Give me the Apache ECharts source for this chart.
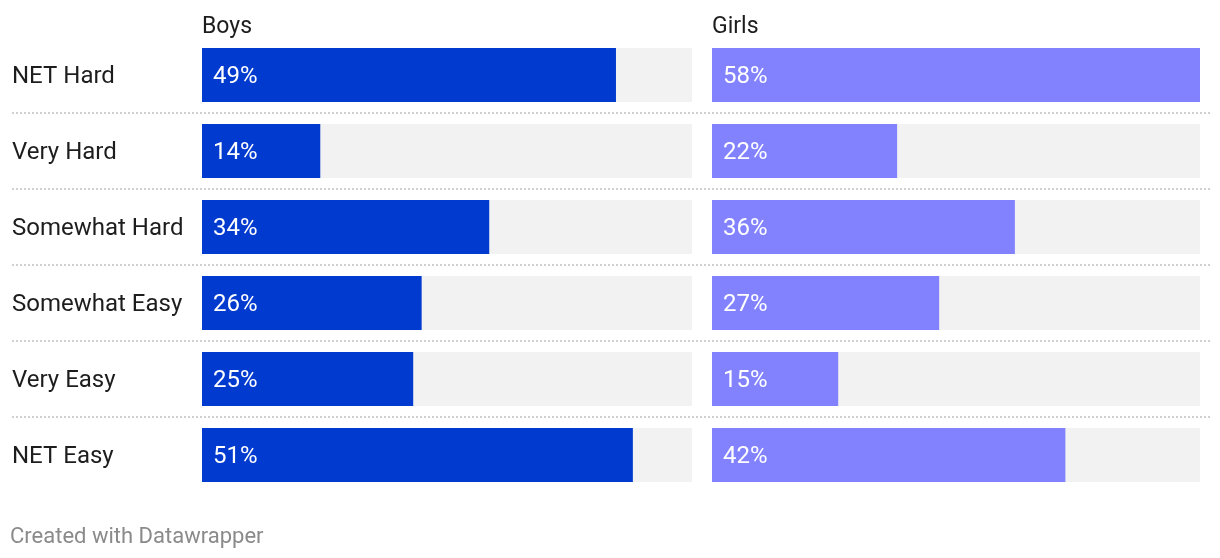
<!DOCTYPE html>
<html>
<head>
<meta charset="utf-8">
<script src="https://cdn.jsdelivr.net/npm/echarts@6/dist/echarts.min.js"></script>
<style>
html,body{margin:0;padding:0;background:#fff;}
#chart{width:1220px;height:558px;}
</style>
</head>
<body>
<div id="chart"></div>
<script>
const categories = ["NET Hard", "Very Hard", "Somewhat Hard", "Somewhat Easy", "Very Easy", "NET Easy"];
const boys = [49, 14, 34, 26, 25, 51];
const girls = [58, 22, 36, 27, 15, 42];
const panelTitles = ["Boys", "Girls"];
const footerText = "Created with Datawrapper";
const xMax = 58;

const FONT = "Roboto, 'Noto Sans', sans-serif";
const chart = echarts.init(document.getElementById('chart'), null, {renderer: 'canvas'});

const gridTop = 37, gridHeight = 456;

function barSeries(data, color, idx) {
  return {
    type: 'bar',
    xAxisIndex: idx, yAxisIndex: idx,
    data: data,
    barWidth: 54,
    showBackground: true,
    backgroundStyle: {color: '#f2f2f2'},
    itemStyle: {color: color},
    silent: true,
    label: {
      show: true, position: 'insideLeft', distance: 11, offset: [0, 2],
      formatter: p => p.value + '%',
      color: '#ffffff', fontSize: 24, fontFamily: FONT
    }
  };
}

chart.setOption({
  animation: false,
  backgroundColor: '#ffffff',
  title: [
    {text: panelTitles[0], left: 197, top: 11, textStyle: {fontSize: 23, fontWeight: 'normal', color: '#1d1d1d', fontFamily: FONT}},
    {text: panelTitles[1], left: 707, top: 11, textStyle: {fontSize: 23, fontWeight: 'normal', color: '#1d1d1d', fontFamily: FONT}},
    {text: footerText, left: 5, top: 521, textStyle: {fontSize: 22, fontWeight: 'normal', color: '#8a8a8a', fontFamily: FONT}}
  ],
  grid: [
    {left: 202, width: 490, top: gridTop, height: gridHeight},
    {left: 712, width: 488, top: gridTop, height: gridHeight},
    {left: 12, width: 1198, top: gridTop, height: gridHeight, z: 0}
  ],
  xAxis: [
    {gridIndex: 0, type: 'value', min: 0, max: xMax, show: false},
    {gridIndex: 1, type: 'value', min: 0, max: xMax, show: false},
    {gridIndex: 2, type: 'value', min: 0, max: 1, show: false}
  ],
  yAxis: [
    {gridIndex: 0, type: 'category', data: categories, inverse: true,
     axisLine: {show: false}, axisTick: {show: false}, splitLine: {show: false},
     axisLabel: {show: true, align: 'left', margin: 190,
       formatter: v => '{c|' + v + '}',
       rich: {c: {fontSize: 24, color: '#1d1d1d', fontFamily: FONT, padding: [4, 0, 0, 0]}}}},
    {gridIndex: 1, type: 'category', data: categories, inverse: true,
     axisLine: {show: false}, axisTick: {show: false}, splitLine: {show: false},
     axisLabel: {show: false}},
    {gridIndex: 2, type: 'value', min: 0, max: categories.length, interval: 1,
     axisLine: {show: false}, axisTick: {show: false}, axisLabel: {show: false},
     splitLine: {show: true, showMinLine: false, showMaxLine: false,
       lineStyle: {color: '#d0d0d0', width: 2, type: [2, 2]}}}
  ],
  series: [
    barSeries(boys, '#003acf', 0),
    barSeries(girls, '#8282ff', 1)
  ]
});
</script>
</body>
</html>
